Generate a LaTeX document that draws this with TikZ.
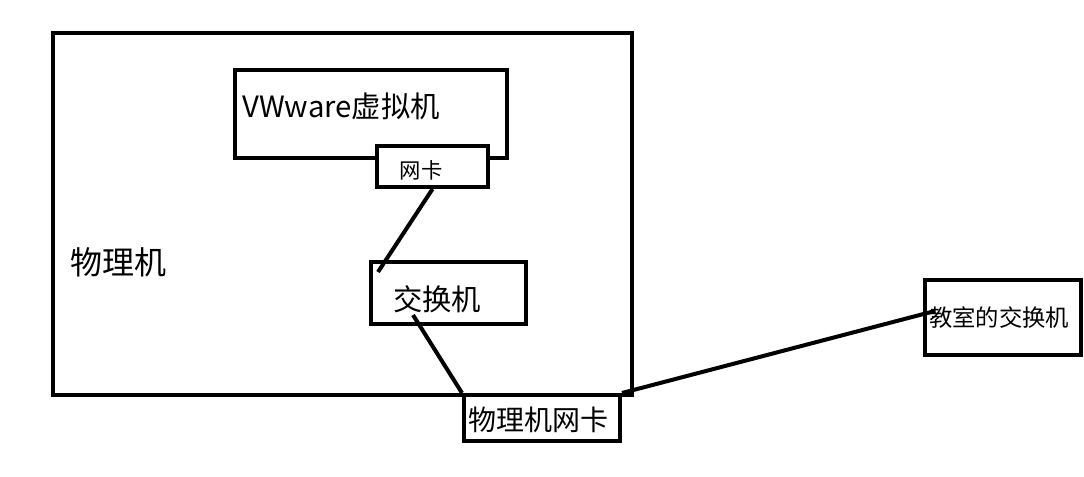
\documentclass[tikz,border=0pt]{standalone}
\usepackage{fontspec}
\setmainfont{Noto Sans CJK SC}
\usepackage{tikz}

\tikzset{
  box/.style={draw, line width=3pt, fill=white, inner sep=0pt},
  txt/.style={inner sep=0pt},
  wire/.style={line width=3pt}
}

\begin{document}
\begin{tikzpicture}[x=0.75pt, y=-0.75pt]
\useasboundingbox (0,0) rectangle (1084,477);
% boxes
\node[box, minimum width=434.25pt, minimum height=271.5pt] (host) at (342.5,214) {};
\node[box, minimum width=204pt, minimum height=66pt] (vm) at (371,114) {};
\node[box, minimum width=83.25pt, minimum height=30.75pt] (nic) at (432.5,166.5) {};
\node[box, minimum width=116.25pt, minimum height=46.5pt] (sw) at (448.5,293) {};
\node[box, minimum width=117pt, minimum height=34.5pt] (pnic) at (542,418) {};
\node[box, minimum width=117pt, minimum height=56.25pt] (csw) at (1003,317.5) {};
% texts
\node[txt, anchor=west, font=\fontsize{22}{22}\selectfont] (vmtxt) at (242,106) {VWware虚拟机};
\node[txt, font=\fontsize{16}{16}\selectfont] (nictxt) at (421,170) {网卡};
\node[txt, anchor=west, font=\fontsize{24}{24}\selectfont] (hosttxt) at (70,262) {物理机};
\node[txt, font=\fontsize{22}{22}\selectfont] (swtxt) at (437,299) {交换机};
\node[txt, font=\fontsize{21}{21}\selectfont] (pnictxt) at (538,420) {物理机网卡};
\node[txt, font=\fontsize{17.5}{17.5}\selectfont] (cswtxt) at (999,318) {教室的交换机};
% wires
\coordinate (swin) at (378,272);
\coordinate (swout) at (413,315);
\coordinate (cswin) at (935,311);
\draw[wire] (nic.south) -- (swin);
\draw[wire] (swout) -- (pnic.north west);
\draw[wire] (pnic.north east) -- (cswin);
\end{tikzpicture}
\end{document}
